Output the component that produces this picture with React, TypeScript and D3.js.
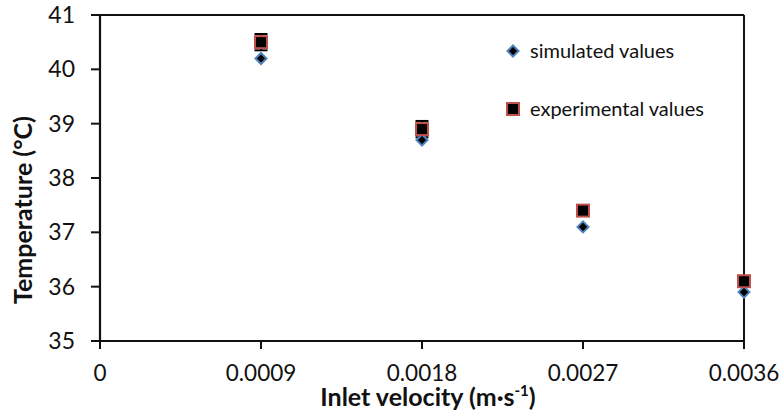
import React from "react";
import * as d3 from "d3";

// inlet velocities (m/s)
const velocities = [0.0009, 0.0018, 0.0027, 0.0036];
const simulated = [40.2, 38.7, 37.1, 35.9];
const experimental = [40.5, 38.9, 37.4, 36.1];
const expError = [0.15, 0.15, 0.08, 0.08];

const xTicks = [0, 0.0009, 0.0018, 0.0027, 0.0036];
const xTickLabels = ["0", "0.0009", "0.0018", "0.0027", "0.0036"];
const yTicks = [35, 36, 37, 38, 39, 40, 41];

const seriesNames = ["simulated values", "experimental values"];

const W = 784;
const H = 417;
const margin = { left: 100, right: 40, top: 15, bottom: 76 };
const font = "Lato, 'Open Sans', sans-serif";

const Diamond = ({ x, y }: { x: number; y: number }) => (
  <path
    d={`M${x},${y - 5.5} L${x + 5.5},${y} L${x},${y + 5.5} L${x - 5.5},${y} Z`}
    fill="#000"
    stroke="#4f81bd"
    strokeWidth={2}
  />
);

const Square = ({ x, y }: { x: number; y: number }) => (
  <rect x={x - 6} y={y - 6} width={12} height={12} fill="#000" stroke="#c0504d" strokeWidth={2} />
);

const App = () => {
  const x = d3
    .scaleLinear()
    .domain([0, 0.0036])
    .range([margin.left, W - margin.right]);
  const y = d3
    .scaleLinear()
    .domain([35, 41])
    .range([H - margin.bottom, margin.top]);

  const x0 = x.range()[0];
  const x1 = x.range()[1];
  const yBottom = y.range()[0];
  const yTop = y.range()[1];
  const axisColor = "#111";

  return (
    <svg
      width={W}
      height={H}
      style={{ position: "absolute", left: 0, top: 0, background: "#fff" }}
      fontFamily={font}
    >
      {/* plot frame */}
      <line x1={x0} x2={x1} y1={yTop} y2={yTop} stroke={axisColor} strokeWidth={2} />
      <line x1={x1} x2={x1} y1={yTop} y2={yBottom} stroke={axisColor} strokeWidth={2} />
      <line x1={x0} x2={x0} y1={yTop} y2={yBottom} stroke={axisColor} strokeWidth={2.2} />
      <line x1={x0} x2={x1} y1={yBottom} y2={yBottom} stroke={axisColor} strokeWidth={2.2} />

      {/* y ticks */}
      {yTicks.map((t) => (
        <g key={t}>
          <line x1={x0 - 9} x2={x0} y1={y(t)} y2={y(t)} stroke={axisColor} strokeWidth={2} />
          <text
            x={x0 - 25}
            y={y(t)}
            dy="0.35em"
            textAnchor="end"
            fontSize={23}
            fill="#111"
          >
            {t}
          </text>
        </g>
      ))}

      {/* x ticks */}
      {xTicks.map((t, i) => (
        <g key={t}>
          <line x1={x(t)} x2={x(t)} y1={yBottom} y2={yBottom + 8} stroke={axisColor} strokeWidth={2} />
          <text x={x(t)} y={yBottom + 40} textAnchor="middle" fontSize={22.5} fill="#111">
            {xTickLabels[i]}
          </text>
        </g>
      ))}

      {/* axis titles */}
      <text
        x={(x0 + x1) / 2 + 6}
        y={406}
        textAnchor="middle"
        fontSize={25}
        fontWeight="bold"
        fill="#111"
      >
        Inlet velocity (m·s
        <tspan fontSize={15} dy={-10}>
          -1
        </tspan>
        <tspan dy={10}>)</tspan>
      </text>
      <text
        transform={`translate(32,${210}) rotate(-90)`}
        textAnchor="middle"
        fontSize={25}
        fontWeight="bold"
        fill="#111"
      >
        Temperature (°C)
      </text>

      {/* error bars */}
      {velocities.map((v, i) => {
        const top = y(experimental[i] + expError[i]);
        const bot = y(experimental[i] - expError[i]);
        return (
          <g key={`e${i}`} stroke="#000" strokeWidth={2}>
            <line x1={x(v)} x2={x(v)} y1={top} y2={bot} />
            <line x1={x(v) - 6.5} x2={x(v) + 6.5} y1={top} y2={top} />
            <line x1={x(v) - 6.5} x2={x(v) + 6.5} y1={bot} y2={bot} />
          </g>
        );
      })}

      {/* simulated */}
      {velocities.map((v, i) => (
        <Diamond key={`s${i}`} x={x(v)} y={y(simulated[i])} />
      ))}
      {/* experimental */}
      {velocities.map((v, i) => (
        <Square key={`x${i}`} x={x(v)} y={y(experimental[i])} />
      ))}

      {/* legend */}
      <Diamond x={513} y={51} />
      <text x={530} y={51} dy="0.35em" fontSize={20} fill="#111">
        {seriesNames[0]}
      </text>
      <Square x={513} y={109} />
      <text x={530} y={109} dy="0.35em" fontSize={20} fill="#111">
        {seriesNames[1]}
      </text>
    </svg>
  );
};

export default App;
